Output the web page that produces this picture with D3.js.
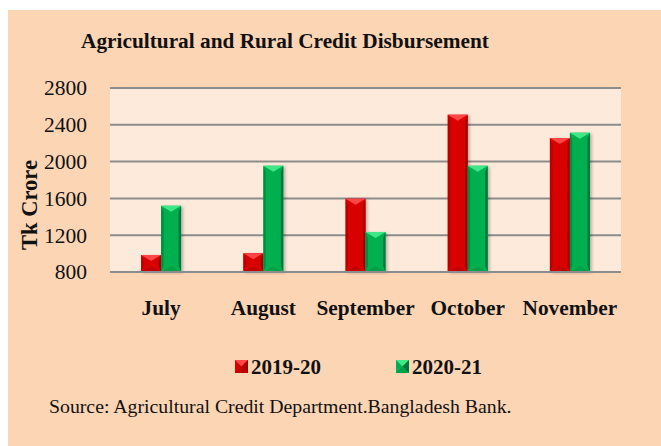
<!DOCTYPE html>
<html>
<head>
<meta charset="utf-8">
<script src="https://cdn.jsdelivr.net/npm/d3@7"></script>
<style>
  body { margin: 0; background: #fff; }
  text { font-family: "Liberation Serif", "Times New Roman", serif; fill: #111; }
</style>
</head>
<body>
<div id="chart"></div>
<script>
var months = ['July', 'August', 'September', 'October', 'November'];
var series = ['2019-20', '2020-21'];
var values1920 = [985, 1005, 1597, 2510, 2256];
var values2021 = [1520, 1955, 1235, 1955, 2314];
var yTicks = [800, 1200, 1600, 2000, 2400, 2800];

var chart_width = 661, chart_height = 446;
var plot = {left: 110, right: 621, top: 88, bottom: 272};

var colors = {
    '2019-20': {main: '#d90000', dark: '#a30000', light: '#ff4646', low: '#c20000'},
    '2020-21': {main: '#00b050', dark: '#00773a', light: '#3ee888', low: '#00a048'}
};

var data = months.map((m, i) => {
    return {month: m, vals: [values1920[i], values2021[i]]};
});

var svg = d3.select('#chart')
            .append('svg')
            .attr('width', chart_width)
            .attr('height', chart_height);

var defs = svg.append('defs');
var f = defs.append('filter').attr('id', 'shadow').attr('x', '-30%').attr('y', '-10%').attr('width', '160%').attr('height', '130%');
f.append('feDropShadow').attr('dx', 2).attr('dy', 1).attr('stdDeviation', 1.5).attr('flood-color', '#000').attr('flood-opacity', 0.25);

// background
svg.append('rect').attr('x', 8).attr('y', 10).attr('width', chart_width - 8).attr('height', chart_height - 10).attr('fill', '#fcd5b5');
svg.append('rect').attr('x', plot.left).attr('y', plot.top).attr('width', plot.right - plot.left).attr('height', plot.bottom - plot.top).attr('fill', '#fdeada');

// scales
var x0 = d3.scaleBand().domain(months).range([plot.left, plot.right]);
var barW = 20;
var x1 = d3.scaleBand().domain(series).range([x0.bandwidth() / 2 - barW, x0.bandwidth() / 2 + barW]);
var y = d3.scaleLinear().domain([800, 2800]).range([plot.bottom, plot.top]);

// gridlines
svg.append('g').selectAll('line')
    .data(yTicks)
    .enter()
    .append('line')
    .attr('x1', plot.left).attr('x2', plot.right)
    .attr('y1', (d) => y(d)).attr('y2', (d) => y(d))
    .attr('stroke', '#8c8c8c').attr('stroke-width', 2);

// y axis labels
var yAxis = d3.axisLeft(y).tickValues(yTicks).tickFormat(d3.format('d')).tickSize(0).tickPadding(0);
var yg = svg.append('g').attr('transform', 'translate(' + 87 + ',0)').call(yAxis);
yg.select('.domain').remove();
yg.selectAll('text').style('font-family', '"Liberation Serif", serif').style('font-size', '21.5px').attr('fill', '#111');

// x axis labels
var xAxis = d3.axisBottom(x0).tickSize(0).tickPadding(0);
var xg = svg.append('g').attr('transform', 'translate(0,' + 300 + ')').call(xAxis);
xg.select('.domain').remove();
xg.selectAll('text').style('font-family', '"Liberation Serif", serif').style('font-size', '21.3px').style('font-weight', 'bold').attr('fill', '#111');

// bevelled bar
function drawBar(g, x, yTop, w, h, c) {
    var b = Math.min(w * 0.3, h / 2);
    g.append('rect').attr('x', x).attr('y', yTop).attr('width', w).attr('height', h).attr('fill', c.main).attr('filter', 'url(#shadow)');
    g.append('polygon').attr('points', [[x, yTop], [x + 2.5, yTop + b], [x + 2.5, yTop + h - b], [x, yTop + h]].join(' ')).attr('fill', c.dark).attr('opacity', 0.6);
    g.append('polygon').attr('points', [[x + w, yTop], [x + w - 2.5, yTop + b], [x + w - 2.5, yTop + h - b], [x + w, yTop + h]].join(' ')).attr('fill', c.dark);
    g.append('polygon').attr('points', [[x, yTop], [x + w, yTop], [x + w / 2, yTop + b]].join(' ')).attr('fill', c.light);
    g.append('polygon').attr('points', [[x, yTop + h], [x + w, yTop + h], [x + w / 2, yTop + h - b]].join(' ')).attr('fill', c.low);
}

var groups = svg.append('g').selectAll('g')
    .data(data)
    .enter()
    .append('g')
    .attr('transform', (d) => 'translate(' + x0(d.month) + ',0)');

groups.each(function(d) {
    var g = d3.select(this);
    series.forEach((s, i) => {
        var v = d.vals[i];
        drawBar(g, x1(s), y(v), x1.bandwidth(), y(800) - y(v), colors[s]);
    });
});

// baseline
svg.append('line').attr('x1', plot.left).attr('x2', plot.right).attr('y1', y(800)).attr('y2', y(800)).attr('stroke', '#8c8c8c').attr('stroke-width', 2);

// title
svg.append('text').text('Agricultural and Rural Credit Disbursement')
    .attr('x', 285).attr('y', 48).attr('text-anchor', 'middle')
    .style('font-size', '21.3px').style('font-weight', 'bold');

// y title
svg.append('text').text('Tk Crore')
    .attr('transform', 'translate(37,205) rotate(-90)').attr('text-anchor', 'middle')
    .style('font-size', '22.5px').style('font-weight', 'bold');

// legend
var legendX = [235, 396];
var lg = svg.append('g').selectAll('g')
    .data(series)
    .enter()
    .append('g')
    .attr('transform', (d, i) => 'translate(' + legendX[i] + ',360)');
lg.each(function(s) {
    var g = d3.select(this);
    var c = colors[s];
    g.append('rect').attr('width', 13).attr('height', 13).attr('fill', c.main);
    g.append('polygon').attr('points', '0,0 13,0 6.5,6.5').attr('fill', c.light);
    g.append('polygon').attr('points', '13,0 13,13 6.5,6.5').attr('fill', c.dark);
    g.append('polygon').attr('points', '0,13 13,13 6.5,6.5').attr('fill', c.low);
});
lg.append('text').text((d) => d).attr('x', 16).attr('y', 13.5)
    .style('font-size', '21px').style('font-weight', 'bold');

// source
svg.append('text').text('Source: Agricultural Credit Department.Bangladesh Bank.')
    .attr('x', 49).attr('y', 413)
    .style('font-size', '19.8px');
</script>
</body>
</html>
